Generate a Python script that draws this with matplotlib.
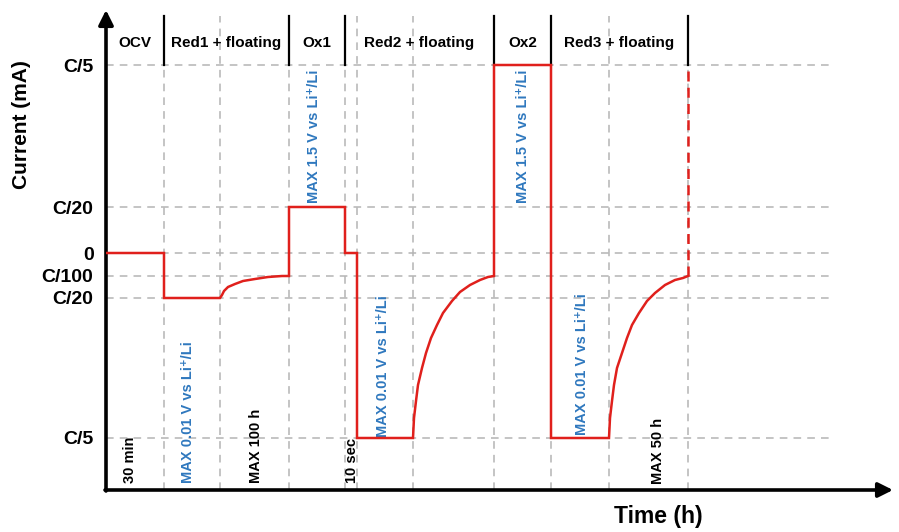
import matplotlib
matplotlib.use("Agg")
import matplotlib.pyplot as plt

plt.rcParams['font.family'] = ['Liberation Sans', 'DejaVu Sans']

# ---- data (arbitrary schematic units) ----
phase_names = ["OCV", "Red1 + floating", "Ox1", "Red2 + floating", "Ox2", "Red3 + floating"]
phase_bounds = [0, 58, 183, 239, 388, 445, 582]
extra_grid_x = [114, 251, 307, 503]

level_labels = ["C/5", "C/20", "0", "C/100", "C/20", "C/5"]
level_pos = [188, 46, 0, -23, -45, -185]

# current trace (solid part)
time_pts = [0, 58, 58, 114,
            116, 118, 122, 129, 137, 149, 162, 176, 183,
            183, 239, 239, 251, 251, 307,
            308, 310, 312, 316, 320, 325, 331, 337, 346, 354, 364, 374, 382, 388,
            388, 445, 445, 503,
            504, 506, 508, 511, 516, 521, 526, 533, 541, 549, 559, 569, 577, 582]
current_pts = [0, 0, -45, -45,
               -42, -38, -34, -31, -28, -26, -24, -23, -23,
               46, 46, 0, 0, -185, -185,
               -165, -148, -132, -115, -100, -85, -72, -60, -48, -39, -32, -27, -24, -23,
               188, 188, -185, -185,
               -165, -148, -132, -115, -100, -85, -72, -60, -48, -40, -32, -27, -25, -23]
# current trace (dashed continuation)
dashed_time = [582, 582]
dashed_current = [-23, 188]

blue_notes = ["MAX 0.01 V vs Li\u207a/Li", "MAX 1.5 V vs Li\u207a/Li",
              "MAX 0.01 V vs Li\u207a/Li", "MAX 1.5 V vs Li\u207a/Li",
              "MAX 0.01 V vs Li\u207a/Li"]
black_notes = ["30 min", "MAX 100 h", "10 sec", "MAX 50 h"]

RED = "#E0201C"
BLUE = "#2F78BE"
GRID = "#B4B4B4"

W, H = 899, 532
fig = plt.figure(figsize=(W / 100, H / 100), dpi=100)
x0, y0 = 106, 490
ax = fig.add_axes([x0 / W, (H - y0) / H, (893 - x0) / W, (y0 - 10) / H])
ax.set_xlim(0, 787)
ax.set_ylim(-237, 243)
for s in ax.spines.values():
    s.set_visible(False)
ax.set_xticks([])
ax.set_yticks(level_pos)
ax.set_yticklabels(level_labels, fontsize=14, fontweight='bold')
ax.tick_params(axis='y', length=0, pad=9)

dash = (0, (5, 4))
grid_right = 724
grid_top = 237
for yv in level_pos:
    ax.plot([0, grid_right], [yv, yv], color=GRID, lw=1.1, ls=dash, zorder=1)
for xv in sorted(phase_bounds[1:] + extra_grid_x):
    ax.plot([xv, xv], [-237, grid_top], color=GRID, lw=1.1, ls=dash, zorder=1)

# header separators
for xv in phase_bounds[1:]:
    ax.plot([xv, xv], [188, grid_top], color='black', lw=1.6, zorder=3)
for i, name in enumerate(phase_names):
    xc = (phase_bounds[i] + phase_bounds[i + 1]) / 2
    ax.text(xc, 210, name, ha='center', va='center', fontsize=11, fontweight='bold')

# current trace
ax.plot(time_pts, current_pts, color=RED, lw=1.8, zorder=4, solid_joinstyle='miter')
ax.plot(dashed_time, dashed_current, color=RED, lw=1.8, ls=(0, (4, 2.5)), zorder=4)

# annotations
rot = dict(rotation=90, ha='center', va='bottom', fontsize=10.5, fontweight='bold')
blue_pos = [(82, -230), (208, 50), (277, -184), (417, 50), (476, -182)]
for (xv, yv), t in zip(blue_pos, blue_notes):
    ax.text(xv, yv, t, color=BLUE, **rot)
black_pos = [(24, -230), (150, -230), (246, -230), (552, -231)]
for (xv, yv), t in zip(black_pos, black_notes):
    ax.text(xv, yv, t, color='black', **rot)

# axes with arrows
arrow = dict(arrowstyle='-|>', lw=2.6, color='black', mutation_scale=22,
             shrinkA=0, shrinkB=0)
ax.annotate('', xy=(0, 243), xytext=(0, -238), arrowprops=arrow, annotation_clip=False)
ax.annotate('', xy=(787, -237), xytext=(-1, -237), arrowprops=arrow, annotation_clip=False)

fig.text(22 / W, 1 - 125 / H, "Current (mA)", rotation=90, ha='center', va='center',
         fontsize=15, fontweight='bold')
fig.text(658 / W, 1 - 516 / H, "Time (h)", ha='center', va='center',
         fontsize=16.5, fontweight='bold')

fig.savefig("out.png", dpi=100)
